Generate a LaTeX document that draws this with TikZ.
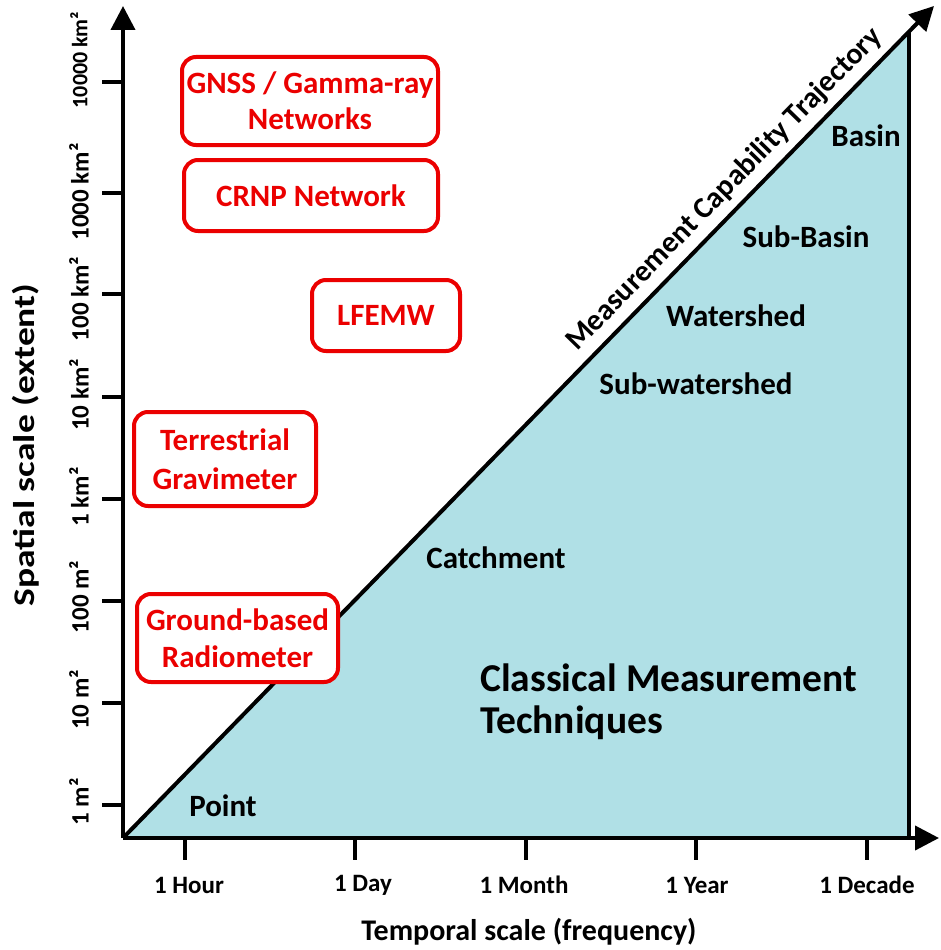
\documentclass[tikz,border=0pt]{standalone}
\usepackage{fontspec}
\setmainfont{Carlito}
\usetikzlibrary{arrows.meta}
\definecolor{fillblue}{RGB}{176,224,230}
\definecolor{boxred}{RGB}{235,0,0}
\tikzset{
  redbox/.style={draw=boxred, line width=4pt, rounded corners=14pt, fill=white,
    text=boxred, font=\fontsize{31}{36}\selectfont\bfseries, align=center, inner sep=0pt},
  region/.style={font=\fontsize{31}{36}\selectfont\bfseries, inner sep=0pt},
  ylab/.style={font=\fontsize{25}{28}\selectfont\bfseries, rotate=90, inner sep=0pt},
  xlab/.style={font=\fontsize{25}{30}\selectfont\bfseries, inner sep=0pt},
  axisline/.style={line width=4pt, -{Triangle[length=24pt,width=24pt]}},
  tickline/.style={line width=4pt},
}
\begin{document}
\begin{tikzpicture}[x=1pt,y=-1pt]
\useasboundingbox (0,0) rectangle (940,950);
% geometry
\coordinate (O) at (123,838);
\coordinate (ytop) at (123,6);
\coordinate (xend) at (939,838);
\coordinate (dend) at (934,6);
\coordinate (tr) at (909,31.6);
\coordinate (br) at (909,838);
% classical region
\fill[fillblue] (O) -- (tr) -- (br) -- cycle;
\draw[line width=3.5pt] (br) -- (tr);
% y ticks
\foreach \yy in {82,193,294,397,499,601,703,805}
  \draw[tickline] (102,\yy) -- (123,\yy);
% x ticks
\foreach \xx in {185,355,526,696,867}
  \draw[tickline] (\xx,838) -- (\xx,860);
% axes
\draw[axisline] (O) -- (ytop);
\draw[axisline] (O) -- (xend);
\draw[axisline] (O) -- (dend)
  node[sloped, above=7pt, pos=0.761, font=\fontsize{30}{34}\selectfont\bfseries, inner sep=0pt] (traj) {Measurement Capability Trajectory};
% y labels
\node[ylab, font=\fontsize{22}{26}\selectfont\bfseries] (y1) at (79,60) {10000 km²};
\node[ylab] (y2) at (79,192) {1000 km²};
\node[ylab] (y3) at (79,299) {100 km²};
\node[ylab] (y4) at (79,395) {10 km²};
\node[ylab] (y5) at (79,497) {1 km²};
\node[ylab] (y6) at (79,597) {100 m²};
\node[ylab] (y7) at (79,700) {10 m²};
\node[ylab] (y8) at (79,802) {1 m²};
% x labels
\node[xlab] (x1) at (189,885) {1 Hour};
\node[xlab] (x2) at (363,885) {1 Day};
\node[xlab] (x3) at (524,885) {1 Month};
\node[xlab] (x4) at (697,885) {1 Year};
\node[xlab] (x5) at (867,885) {1 Decade};
% axis titles
\node[font=\fontsize{30}{36}\selectfont\bfseries, inner sep=0pt] (xtitle) at (529,932) {Temporal scale (frequency)};
\node[font=\fontsize{30}{36}\selectfont\bfseries, rotate=90, inner sep=0pt] (ytitle) at (26,445) {\scalebox{1.25}[1]{Spatial scale (extent)}};
% red boxes
\node[redbox, minimum width=256pt, minimum height=88pt] (gnss) at (310,101) {GNSS / Gamma-ray\\Networks};
\node[redbox, minimum width=254pt, minimum height=71pt] (crnp) at (311,195.5) {CRNP Network};
\node[redbox, minimum width=148pt, minimum height=71pt] (lfemw) at (386,315.5) {LFEMW};
\node[redbox, minimum width=182pt, minimum height=94pt, font=\fontsize{31}{39}\selectfont\bfseries] (grav) at (225,459) {Terrestrial\\Gravimeter};
\node[redbox, minimum width=201pt, minimum height=88pt, font=\fontsize{31}{37}\selectfont\bfseries] (radio) at (237.5,638) {Ground-based\\Radiometer};
% region labels
\node[region] (basin) at (866,136) {Basin};
\node[region] (subbasin) at (806,237) {Sub-Basin};
\node[region] (watershed) at (736,316) {Watershed};
\node[region] (subws) at (696,384) {Sub-watershed};
\node[region] (catch) at (496,558) {Catchment};
\node[region] (point) at (223,806) {Point};
\node[font=\fontsize{39.5}{42}\selectfont\bfseries, align=left, anchor=north west, inner sep=0pt] (classical) at (480,664) {Classical Measurement\\Techniques};
\end{tikzpicture}
\end{document}
